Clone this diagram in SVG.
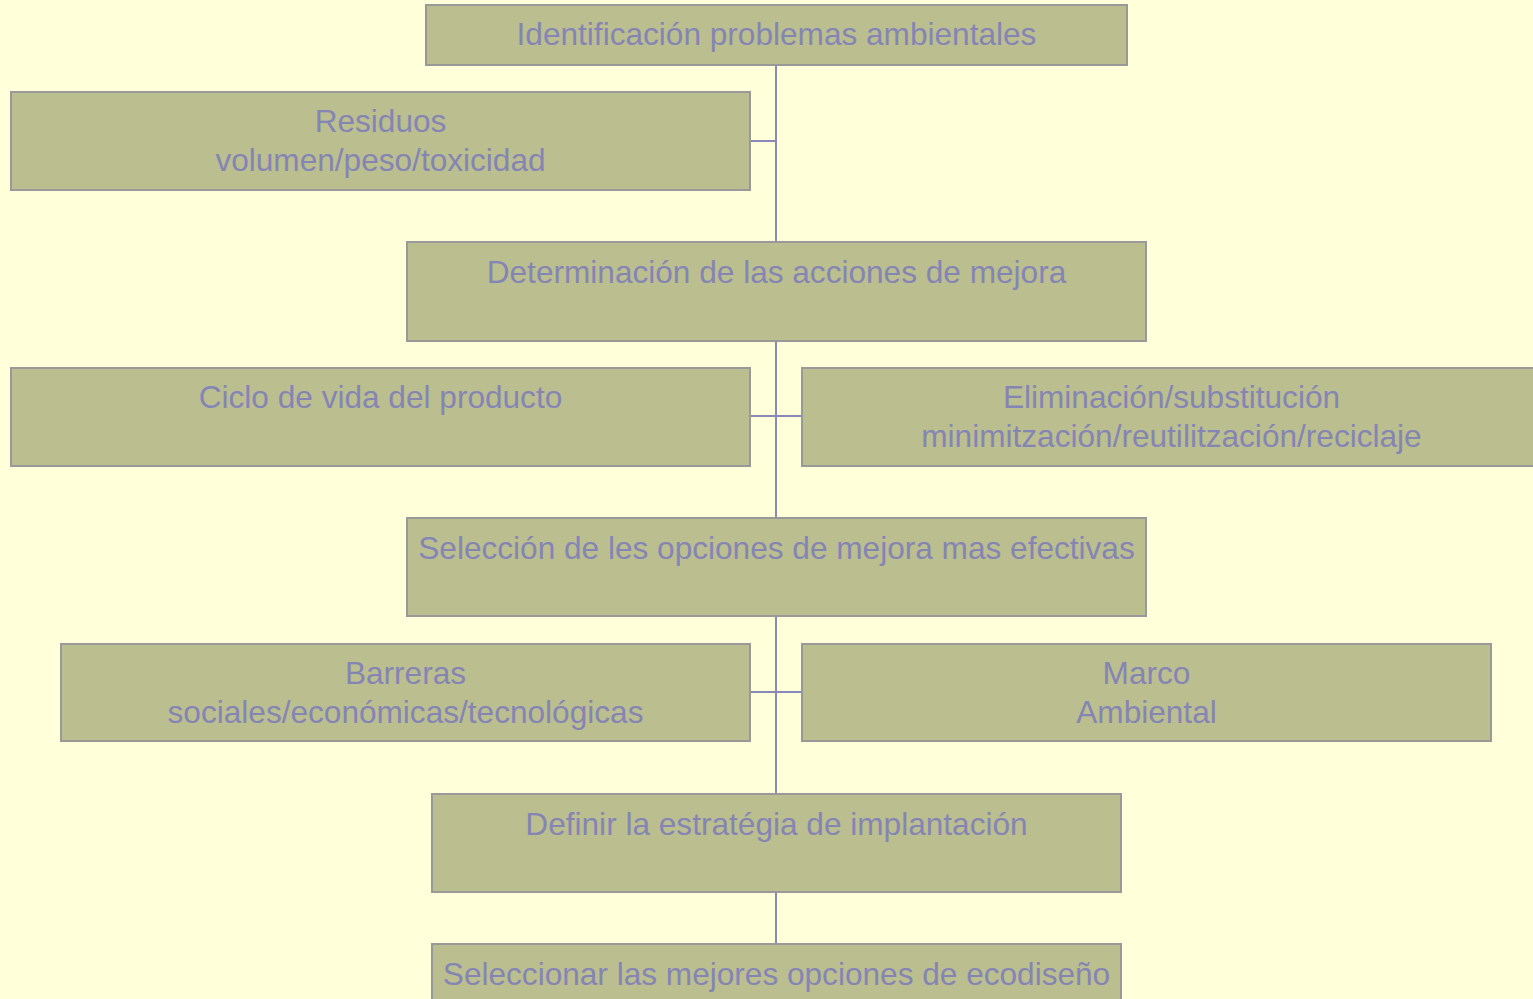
<svg xmlns="http://www.w3.org/2000/svg" width="1533" height="999" viewBox="0 0 1533 999">
<style>
.box rect{fill:#BBBE8F;stroke:#999999;stroke-width:2}
.box text{font-family:"Liberation Sans",Arial,sans-serif;font-size:31.6px;fill:#8585B5;text-anchor:middle}
.conn line{stroke:#8888BB;stroke-width:2}
</style>
<rect x="0" y="0" width="1533" height="999" fill="#FFFFD9"/>
<g id="connectors" class="conn">
<line x1="776" y1="65" x2="776" y2="242"/>
<line x1="750" y1="141" x2="776" y2="141"/>
<line x1="776" y1="341" x2="776" y2="518"/>
<line x1="750" y1="416" x2="802" y2="416"/>
<line x1="776" y1="616" x2="776" y2="794"/>
<line x1="750" y1="692" x2="802" y2="692"/>
<line x1="776" y1="892" x2="776" y2="944"/>
</g>
<g id="n1" class="box"><rect x="426" y="5" width="701" height="60"/><text x="776.5" y="45">Identificación problemas ambientales</text></g>
<g id="n2" class="box"><rect x="11" y="92" width="739" height="98"/><text x="380.5" y="132">Residuos</text><text x="380.5" y="171">volumen/peso/toxicidad</text></g>
<g id="n3" class="box"><rect x="407" y="242" width="739" height="99"/><text x="776.5" y="283">Determinación de las acciones de mejora</text></g>
<g id="n4" class="box"><rect x="11" y="368" width="739" height="98"/><text x="380.5" y="408">Ciclo de vida del producto</text></g>
<g id="n5" class="box"><rect x="802" y="368" width="739" height="98"/><text x="1171.5" y="408">Eliminación/substitución</text><text x="1171.5" y="447">minimitzación/reutilitzación/reciclaje</text></g>
<g id="n6" class="box"><rect x="407" y="518" width="739" height="98"/><text x="776.5" y="559">Selección de les opciones de mejora mas efectivas</text></g>
<g id="n7" class="box"><rect x="61" y="644" width="689" height="97"/><text x="405.5" y="684">Barreras</text><text x="405.5" y="723">sociales/económicas/tecnológicas</text></g>
<g id="n8" class="box"><rect x="802" y="644" width="689" height="97"/><text x="1146.5" y="684">Marco</text><text x="1146.5" y="723">Ambiental</text></g>
<g id="n9" class="box"><rect x="432" y="794" width="689" height="98"/><text x="776.5" y="835">Definir la estratégia de implantación</text></g>
<g id="n10" class="box"><rect x="432" y="944" width="689" height="70"/><text x="776.5" y="985">Seleccionar las mejores opciones de ecodiseño</text></g>
</svg>
